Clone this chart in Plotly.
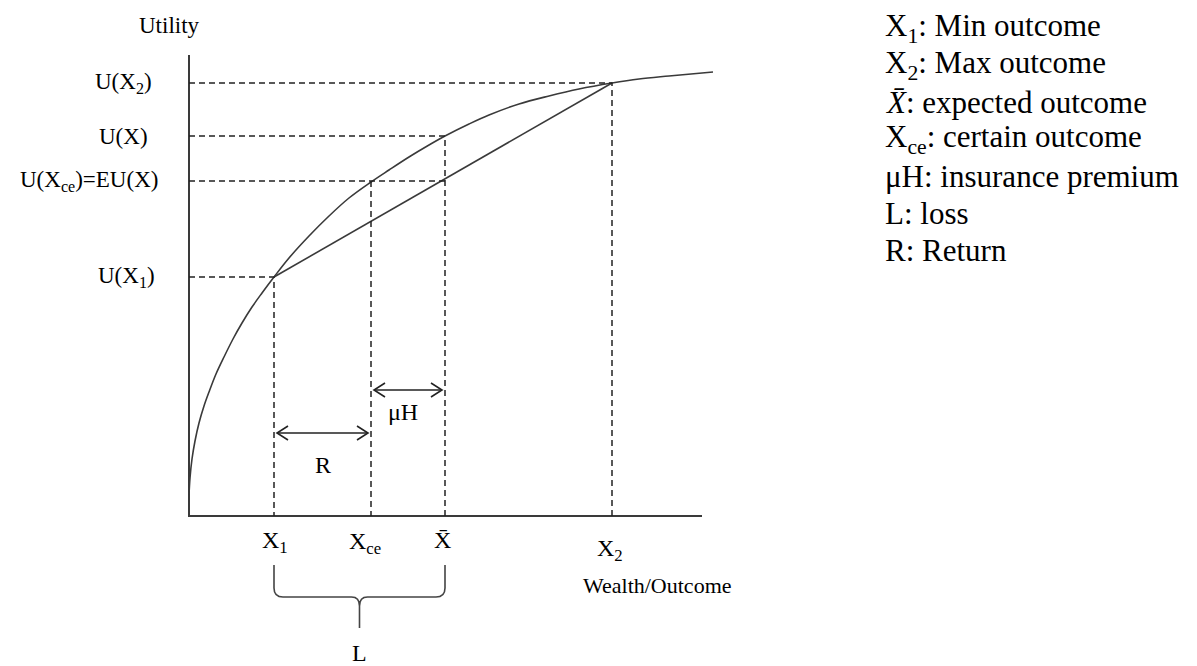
import plotly.graph_objects as go

# Reference frame: x = wealth units, y = utility units (origin at the axes corner)
wealth = [0, 1, 3, 6, 10, 15, 20, 27, 35, 44, 53, 63, 73, 85, 100, 120, 140, 160, 182,
          200, 220, 240, 256, 280, 300, 330, 360, 390, 423, 450, 480, 524]
utility = [21, 38, 57, 75, 93, 110, 124, 142, 159, 177, 193, 209, 223, 239, 258, 280, 300, 318, 334,
           346, 359, 371, 380, 392, 401, 412, 420, 427, 433, 437, 440, 444]

# Key outcomes on the wealth axis
x_min = 85      # X1
x_ce = 182      # Xce
x_bar = 256     # X-bar
x_max = 423     # X2

# Utility levels
u_min = 239     # U(X1)
u_eu = 335      # U(Xce) = EU(X)
u_bar = 380     # U(X)
u_max = 433     # U(X2)

# heights of the R and muH arrows
r_level = 83
mu_level = 126

axis_x_end = 513
axis_y_end = 461

legend_lines = [
    "X<sub>1</sub>: Min outcome",
    "X<sub>2</sub>: Max outcome",
    "<i>X̄</i>: expected outcome",
    "X<sub>ce</sub>: certain outcome",
    "μH: insurance premium",
    "L: loss",
    "R: Return",
]

FONT = "Liberation Serif, Times New Roman, serif"
INK = "#222222"

fig = go.Figure()

# axes
fig.add_trace(go.Scatter(x=[0, 0, axis_x_end], y=[axis_y_end, 0, 0], mode="lines",
                         line=dict(color="#3a3a3a", width=2), hoverinfo="skip"))

# utility curve
fig.add_trace(go.Scatter(x=wealth, y=utility, mode="lines", line_shape="spline",
                         line=dict(color="#3a3a3a", width=1.6, smoothing=1), hoverinfo="skip"))

# chord between X1 and X2
fig.add_trace(go.Scatter(x=[x_min, x_max], y=[u_min, u_max], mode="lines",
                         line=dict(color="#3a3a3a", width=1.6), hoverinfo="skip"))

# dashed guide lines
dash = "6px,4px"
guides = [
    ([0, x_max, x_max], [u_max, u_max, 0]),
    ([0, x_bar, x_bar], [u_bar, u_bar, 0]),
    ([0, x_bar], [u_eu, u_eu]),
    ([x_ce, x_ce], [u_eu, 0]),
    ([0, x_min, x_min], [u_min, u_min, 0]),
]
for gx, gy in guides:
    fig.add_trace(go.Scatter(x=gx, y=gy, mode="lines",
                             line=dict(color=INK, width=1.5, dash=dash), hoverinfo="skip"))

# brace under X1 .. X-bar
mid = (x_min + x_bar) / 2
b_top, b_bar, b_tip = -49, -81, -112
brace = (f"M {x_min},{b_top} V {b_bar + 9} Q {x_min},{b_bar} {x_min + 9},{b_bar} "
         f"H {mid - 8} Q {mid},{b_bar} {mid},{b_bar - 9} V {b_tip} "
         f"M {mid},{b_bar - 9} Q {mid},{b_bar} {mid + 8},{b_bar} "
         f"H {x_bar - 9} Q {x_bar},{b_bar} {x_bar},{b_bar + 9} V {b_top}")
fig.add_shape(type="path", path=brace, xref="x", yref="y",
              line=dict(color="#444444", width=1.6))

# double-headed arrows R and muH with open chevron heads
gap, dx, dy = 3, 11, 7
for x0, x1, yy in [(x_min, x_ce, r_level), (x_ce, x_bar, mu_level)]:
    a, b = x0 + gap, x1 - gap
    fig.add_trace(go.Scatter(
        x=[a + dx, a, a + dx, None, a, b, None, b - dx, b, b - dx],
        y=[yy + dy, yy, yy - dy, None, yy, yy, None, yy + dy, yy, yy - dy],
        mode="lines", line=dict(color=INK, width=1.6), hoverinfo="skip"))


def label(x, y, text, size=24, anchor="center"):
    fig.add_annotation(x=x, y=y, xref="x", yref="y", text=text, showarrow=False,
                       xanchor=anchor, yanchor="middle",
                       font=dict(family=FONT, size=size, color="black"))


label(-20, 491, "Utility", 23)
label(-35, u_max, "U(X<sub>2</sub>)", 23, "right")
label(-39, u_bar, "U(X)", 23, "right")
label(-29, u_eu, "U(X<sub>ce</sub>)=EU(X)", 23, "right")
label(-32, u_min, "U(X<sub>1</sub>)", 23, "right")

label(86, -26, "X<sub>1</sub>")
label(176, -27, "X<sub>ce</sub>")
label(253, -24, "X̄")
label(421, -34, "X<sub>2</sub>")
label(468, -69, "Wealth/Outcome", 22)
label(134, 51, "R")
label(214, 104, "μH")
label(mid, -137, "L")

for i, line in enumerate(legend_lines):
    label(694, 488 - i * 37, line, 31, "left")

# the page body adds an 8px margin, so the figure is 8px smaller than the window
fig.update_layout(
    width=1189, height=658,
    margin=dict(l=0, r=0, t=0, b=0),
    paper_bgcolor="white", plot_bgcolor="white",
    showlegend=False,
    xaxis=dict(range=[-181, 1008], visible=False, fixedrange=True),
    yaxis=dict(range=[-150, 508], visible=False, fixedrange=True),
)

fig.write_html("out.html")
